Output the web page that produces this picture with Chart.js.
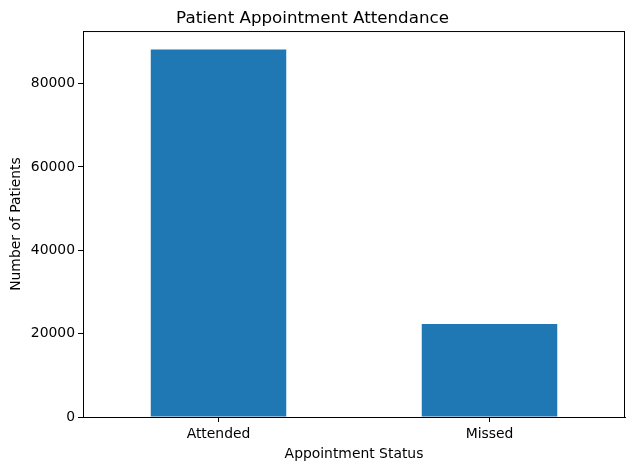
<!DOCTYPE html>
<html>
<head>
<meta charset="utf-8">
<script src="https://cdn.jsdelivr.net/npm/chart.js@4/dist/chart.umd.min.js"></script>
<style>
  html, body { margin: 0; padding: 0; background: #fff; }
  #wrap { width: 635px; height: 470px; }
</style>
</head>
<body>
<div id="wrap"><canvas id="chart" width="635" height="470"></canvas></div>
<script>
// data
const categories = ["Attended", "Missed"];
const patientCounts = [88208, 22319];
const yTicks = [0, 20000, 40000, 60000, 80000];

const FONT = "'DejaVu Sans', sans-serif";

// top/right spines like matplotlib
const frame = {
  id: "frame",
  afterDraw(chart) {
    const { ctx, chartArea: a } = chart;
    ctx.save();
    ctx.strokeStyle = "#000";
    ctx.lineWidth = 1;
    ctx.strokeRect(a.left + 0.5, a.top + 0.5, a.right - a.left - 1, a.bottom - a.top);
    ctx.restore();
  }
};

new Chart(document.getElementById("chart"), {
  type: "bar",
  data: {
    labels: categories,
    datasets: [{
      data: patientCounts,
      backgroundColor: "#1f77b4",
      borderWidth: 0,
      barPercentage: 0.5,
      categoryPercentage: 1.0
    }]
  },
  options: {
    responsive: false,
    animation: false,
    devicePixelRatio: 1,
    layout: { padding: { left: 0, right: 10, top: 0, bottom: 0 } },
    plugins: {
      legend: { display: false },
      tooltip: { enabled: false },
      title: {
        display: true,
        text: "Patient Appointment Attendance",
        color: "#000",
        font: { family: FONT, size: 16.7, weight: "normal" },
        padding: { top: 9, bottom: 2 }
      }
    },
    scales: {
      x: {
        grid: { offset: false, drawOnChartArea: false, drawTicks: true, tickLength: 5, color: "#000" },
        border: { color: "#000" },
        ticks: { color: "#000", font: { family: FONT, size: 13.9 }, padding: 4 },
        title: {
          display: true,
          text: "Appointment Status",
          color: "#000",
          font: { family: FONT, size: 13.9 },
          padding: { top: 4, bottom: 7 }
        },
        afterFit(scale) { scale.height = 53; }
      },
      y: {
        min: 0,
        max: Math.max(...patientCounts) * 1.05,
        grid: { drawOnChartArea: false, drawTicks: true, tickLength: 5, color: "#000" },
        border: { color: "#000" },
        afterBuildTicks(scale) { scale.ticks = yTicks.map(v => ({ value: v })); },
        ticks: {
          color: "#000",
          font: { family: FONT, size: 13.9 },
          padding: 3,
          callback: v => String(v)
        },
        title: {
          display: true,
          text: "Number of Patients",
          color: "#000",
          font: { family: FONT, size: 13.9 },
          padding: { top: 8, bottom: 4 }
        },
        afterFit(scale) { scale.width = 83; }
      }
    }
  },
  plugins: [frame]
});
</script>
</body>
</html>
